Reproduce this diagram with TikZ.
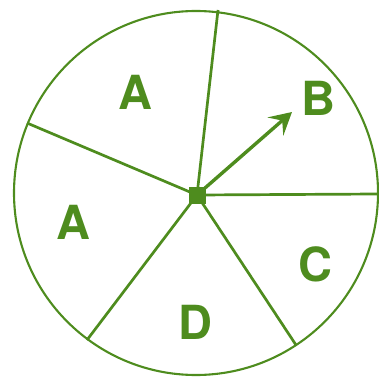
\documentclass[tikz,border=0pt]{standalone}
\usepackage{fontspec}
\setmainfont{TeX Gyre Heros}
\usetikzlibrary{arrows.meta, positioning}
\definecolor{spingreen}{RGB}{78,140,30}

\begin{document}
\begin{tikzpicture}[x=1pt, y=-1pt,
    rim/.style={draw=spingreen, line width=2.1pt},
    spoke/.style={draw=spingreen, line width=2.7pt},
    hubbox/.style={rectangle, fill=spingreen, minimum size=17pt, inner sep=0pt},
    letter/.style={text=spingreen, inner sep=0pt, font=\fontsize{47}{50}\selectfont\bfseries},
    pointer/.style={-{Stealth[length=22pt, width=24pt, inset=9pt]}, line width=3.4pt, spingreen},
]
\useasboundingbox (0,0) rectangle (378,379);
\coordinate (centre) at (196,193);
\draw[rim] (centre) circle (182);

\node[hubbox] (hub) at (197,195) {};
\coordinate (top) at (218,10);
\coordinate (left) at (27,123);
\coordinate (lowleft) at (87,340);
\coordinate (lowright) at (296,345);
\coordinate (right) at (378,194);
\coordinate (tip) at (292,112);

\draw[spoke] (hub.center) -- (top);
\draw[spoke] (hub.center) -- (left);
\draw[spoke] (hub.center) -- (lowleft);
\draw[spoke] (hub.center) -- (lowright);
\draw[spoke] (hub.center) -- (right);
\draw[pointer] (hub.center) -- (tip);

\node[letter] (a1) at (135,92) {A};
\node[letter] (b) at (318,98) {B};
\node[letter] (a2) at (73,222) {A};
\node[letter] (c) at (315,264) {C};
\node[letter] (d) at (195,322) {D};
\end{tikzpicture}
\end{document}
